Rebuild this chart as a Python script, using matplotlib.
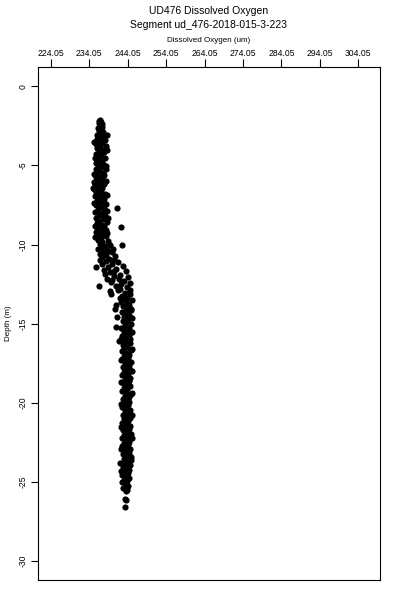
import matplotlib
matplotlib.use("Agg")
import matplotlib.pyplot as plt

plt.rcParams['font.family'] = ['Liberation Sans', 'DejaVu Sans']
plt.rcParams['axes.unicode_minus'] = False

title_line1 = "UD476 Dissolved Oxygen"
title_line2 = "Segment ud_476-2018-015-3-223"
x_label = "Dissolved Oxygen (um)"
y_label = "Depth (m)"

x_ticks = [224.05, 234.05, 244.05, 254.05, 264.05, 274.05, 284.05, 294.05, 304.05]
y_ticks = [0, -5, -10, -15, -20, -25, -30]

depth = [
    -2.1, -2.2, -2.25, -2.35, -2.4, -2.5, -2.6, -2.65, -2.75, -2.85, -2.9, -3.0,
    -3.1, -3.15, -3.25, -3.35, -3.4, -3.5, -3.6, -3.65, -3.75, -3.85, -3.9, -4.0,
    -4.1, -4.15, -4.25, -4.35, -4.45, -4.5, -4.6, -4.7, -4.75, -4.85, -4.95, -5.0,
    -5.1, -5.2, -5.25, -5.35, -5.45, -5.5, -5.6, -5.7, -5.75, -5.85, -5.95,
    -6.05, -6.1, -6.2, -6.25, -6.35, -6.4, -6.5, -6.55, -6.65, -6.7, -6.8, -6.85,
    -6.95, -7.0, -7.1, -7.15,
    -7.25, -7.35, -7.45, -7.5, -7.6, -7.7, -7.7, -7.8, -7.9, -7.95, -8.05, -8.15,
    -8.2, -8.3, -8.4, -8.5, -8.55, -8.65, -8.75, -8.85, -8.9, -8.9, -9.0, -9.1,
    -9.2, -9.25, -9.35, -9.45, -9.5, -9.6, -9.7,
    -9.75, -9.85, -9.95, -10.0, -10.05, -10.1, -10.2, -10.25, -10.3, -10.35,
    -10.45, -10.5, -10.6, -10.65, -10.75, -10.8, -10.9, -10.95,
    -11.05, -11.1, -11.2, -11.25, -11.35, -11.4, -11.45, -11.55, -11.6, -11.7,
    -11.75, -11.85, -11.9, -12.0, -12.05, -12.15, -12.2, -12.3, -12.35, -12.45,
    -12.5, -12.6, -12.6, -12.7, -12.8, -12.85, -12.95,
    -13.05, -13.1, -13.15, -13.25, -13.35, -13.45, -13.5, -13.6, -13.7, -13.8,
    -13.8, -13.9, -14.0, -14.1, -14.15, -14.25, -14.35, -14.45, -14.55, -14.6,
    -14.7, -14.8, -14.9, -15.0, -15.1, -15.2, -15.25, -15.35, -15.45, -15.55,
    -15.6, -15.7, -15.8, -15.9, -16.0, -16.1,
    -16.15, -16.25, -16.35, -16.45, -16.55, -16.65, -16.75, -16.85, -16.95,
    -17.05, -17.15, -17.25, -17.35, -17.45, -17.55, -17.65, -17.75, -17.85, -17.95,
    -18.05, -18.15, -18.25, -18.35, -18.45, -18.55, -18.65, -18.75, -18.85, -18.95,
    -19.05, -19.15, -19.25, -19.35, -19.45, -19.55, -19.65, -19.75, -19.85, -19.95,
    -20.05, -20.15, -20.25, -20.35, -20.45, -20.55, -20.65, -20.75, -20.85, -20.95,
    -21.05, -21.15, -21.25, -21.35, -21.45, -21.55, -21.65, -21.75, -21.85, -21.95,
    -22.05, -22.15, -22.25, -22.35, -22.45, -22.55, -22.65, -22.75, -22.85, -22.95,
    -23.05, -23.15, -23.25, -23.35, -23.45, -23.55, -23.65, -23.8, -23.85, -23.95,
    -24.05, -24.15, -24.25, -24.35, -24.45, -24.55, -24.65, -24.75, -24.85, -24.95,
    -25.1, -25.25, -25.4, -25.5, -25.55, -26.1, -26.15, -26.6,
    -3.05, -3.55, -4.05, -4.55, -5.05, -5.55, -6.0, -6.45, -6.9, -7.4, -7.85, -8.35,
    -8.8, -9.3, -9.8, -10.4, -11.0, -11.65, -12.25, -12.9, -13.4, -14.05, -14.65,
    -15.3, -15.95, -16.6, -17.3, -18.0, -18.7, -19.4, -20.1, -20.8, -21.5, -22.2,
    -22.9, -23.6, -24.3, -25.0,
]

oxygen = [
    236.9, 236.7, 237.1, 236.6, 237.3, 236.8, 237.4, 236.4, 237.0, 236.5, 237.6, 236.9,
    236.2, 237.8, 237.0, 236.0, 238.1, 236.7, 237.5, 235.9, 238.3, 236.9, 236.1, 237.7,
    236.5, 238.0, 235.8, 237.2, 236.4, 238.2, 236.0, 237.5, 236.8, 235.7, 237.9, 236.6,
    237.3, 235.9, 238.4, 236.7, 237.6, 236.1, 238.0, 236.9, 235.8, 237.4, 236.3,
    235.3, 236.8, 237.9, 235.6, 236.5, 237.4, 235.2, 236.2, 237.0, 235.9, 238.1, 236.6,
    235.5, 237.5, 236.3, 238.0,
    236.0, 237.2, 238.4, 235.7, 236.8, 237.8, 241.4, 236.3, 238.6, 235.6, 237.3, 236.5,
    238.2, 235.9, 237.6, 236.7, 238.8, 236.0, 237.4, 238.0, 242.3, 236.2, 237.0, 238.5,
    235.8, 237.7, 236.6, 238.3, 235.6, 237.2, 236.4,
    238.9, 237.5, 236.8, 239.5, 242.6, 238.2, 237.0, 240.2, 236.3, 238.7,
    237.6, 239.9, 236.9, 238.3, 240.8, 237.4, 239.1, 236.9,
    238.4, 241.5, 237.5, 240.0, 242.8, 235.9, 238.9, 241.0, 237.8, 243.6,
    239.5, 238.1, 242.0, 240.4, 244.2, 238.8, 241.8, 243.1, 239.7, 244.8,
    242.4, 236.5, 240.9, 243.9, 242.0, 244.6, 239.4,
    243.3, 239.8, 244.7, 242.5, 244.0, 243.0, 245.1, 242.2, 243.8, 241.0,
    244.5, 242.9, 243.6, 240.8, 244.9, 242.7, 243.9, 244.5, 243.1, 241.4,
    244.2, 242.8, 243.7, 245.0, 243.3, 241.1, 244.3, 242.9, 243.9, 245.2,
    243.0, 244.4, 242.6, 243.6, 244.8, 241.9,
    243.5, 244.6, 242.8, 244.0, 243.2, 245.0, 242.6, 243.9, 244.5,
    243.0, 244.2, 242.7, 243.7, 244.9, 243.3, 244.3, 242.9, 243.8, 244.7,
    243.1, 244.1, 242.5, 243.6, 244.8, 243.4, 244.4, 242.8, 243.9, 244.6,
    243.2, 244.0, 242.7, 243.7, 244.9, 243.5, 244.3, 242.9, 243.8, 244.5,
    243.0, 244.2, 242.6, 243.6, 244.7, 243.3, 244.4, 242.8, 243.9, 244.8,
    243.1, 244.1, 242.5, 243.7, 244.6, 243.4, 244.3, 242.9, 243.8, 245.0,
    243.2, 244.0, 242.7, 243.6, 244.5, 243.0, 244.2, 242.6, 243.9, 244.7,
    243.3, 244.4, 242.8, 243.7, 244.9, 243.1, 244.1, 242.0, 243.5, 244.6,
    242.9, 243.8, 244.5, 243.2, 244.2, 242.7, 243.6, 244.4, 243.0, 243.9,
    243.4, 244.1, 242.9, 244.0, 243.6, 243.3, 243.6, 243.4,
    238.6, 235.4, 238.7, 235.5, 238.5, 235.3, 238.4, 235.1, 238.8, 235.4, 237.9, 238.9,
    235.5, 238.7, 237.0, 239.0, 240.5, 240.6, 240.0, 241.5, 242.0, 245.0, 245.3,
    242.2, 242.3, 245.2, 242.3, 245.1, 242.4, 245.2, 242.3, 245.1, 242.2, 245.2,
    242.4, 245.0, 242.3, 242.6,
]

fig = plt.figure(figsize=(4, 6), dpi=100)
ax = fig.add_axes([0.095, 0.0333, 0.855, 0.8545])

ax.scatter(oxygen, depth, s=20, c='black', marker='o', linewidths=0)

ax.set_xlim(220.74, 309.7)
ax.set_ylim(-31.2, 1.2)

ax.xaxis.tick_top()
ax.xaxis.set_label_position('top')
ax.set_xticks(x_ticks)
ax.set_xticklabels([f"{v:.2f}" for v in x_ticks])
ax.set_yticks(y_ticks)
ax.set_yticklabels([str(v) for v in y_ticks], rotation=90, va='center')

ax.tick_params(axis='x', length=6, width=0.8, labelsize=6.2, pad=1)
ax.tick_params(axis='y', length=5, width=0.8, labelsize=6.2, pad=2.5)
for sp in ax.spines.values():
    sp.set_linewidth(0.8)

ax.set_xlabel(x_label, fontsize=5.8, labelpad=5)
ax.set_ylabel(y_label, fontsize=5.8)
ax.yaxis.set_label_coords(-0.075, 0.5)

fig.text(0.5 + 0.0225, 1 - 11 / 600, title_line1, ha='center', va='center', fontsize=7.5)
fig.text(0.5 + 0.0225, 1 - 25 / 600, title_line2, ha='center', va='center', fontsize=7.5)

fig.savefig("out.png", dpi=100)
